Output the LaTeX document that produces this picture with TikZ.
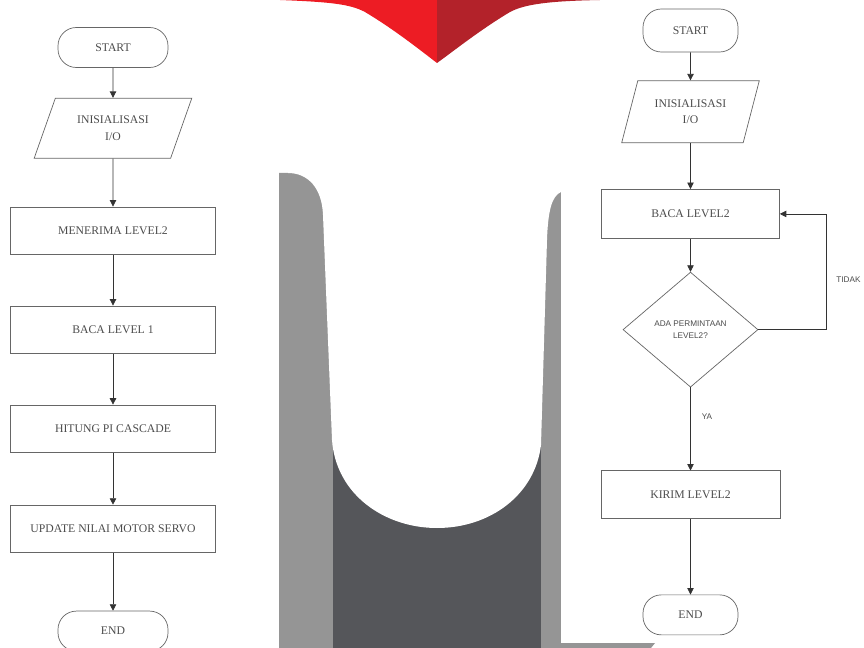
\documentclass[tikz,border=0pt]{standalone}
\usepackage{fontspec}
\setmainfont{Liberation Serif}
\setsansfont{Liberation Sans}
\usepackage{tikz}
\usetikzlibrary{positioning, arrows.meta, shapes.geometric}

\definecolor{redlight}{HTML}{ED1C24}
\definecolor{reddark}{HTML}{B3222A}
\definecolor{greylight}{HTML}{959595}
\definecolor{greydark}{HTML}{55565A}

\begin{document}
\begin{tikzpicture}[
            x=0.03cm, y=-0.03cm,
            >={Triangle[length=5.5pt, width=5.5pt]},
            base/.style={draw=black!60, line width=0.6pt, align=center, text=black!70,
                    font=\fontsize{10}{14}\selectfont, inner sep=1pt},
            terminal/.style={base, rectangle, rounded corners=0.55cm, minimum height=1.2cm},
            io/.style={base, trapezium, trapezium stretches=true,
                    trapezium left angle=63, trapezium right angle=117},
            process/.style={base, rectangle, minimum height=1.42cm},
            decision/.style={base, diamond, minimum width=4.05cm, minimum height=3.45cm,
                    inner sep=0pt, font=\sffamily\fontsize{7}{11}\selectfont},
            arrow/.style={->, line width=0.6pt, black!80},
            tag/.style={font=\sffamily\fontsize{7}{8}\selectfont, text=black!70, inner sep=1pt},
            ]

            \useasboundingbox (0,0) rectangle (864,648);

            % background
            \fill[redlight] (280,0) .. controls (330,2) and (350,4) .. (365,12)
            .. controls (395,30) and (420,50) .. (437,63) -- (437,0) -- cycle;
            \fill[reddark] (437,63) .. controls (455,50) and (480,30) .. (510,12)
            .. controls (525,4) and (550,1) .. (600,0) -- (437,0) -- cycle;
            \fill[greylight] (279,173) -- (563,173) -- (563,643) -- (655,643)
            -- (651,648) -- (279,648) -- cycle;
            \fill[greydark] (333,430) rectangle (541,648);
            \fill[white] (288,173) .. controls (308,173) and (322,188) .. (323,215)
            -- (332,440) .. controls (336,495) and (385,528) .. (437,528)
            .. controls (490,528) and (535,495) .. (541,445)
            -- (547,240) .. controls (548,210) and (552,196) .. (561,192)
            -- (561,160) -- (288,160) -- cycle;
            \fill[white] (561,150) rectangle (864,643);

            % left chart
            \node[terminal, minimum width=3.3cm] (start1) at (113,47.5) {START};
            \node[io, minimum width=4.77cm, minimum height=1.8cm, below=0.9cm of start1] (init1) {INISIALISASI\\I/O};
            \node[process, minimum width=6.15cm, below=1.44cm of init1] (terima) {MENERIMA LEVEL2};
            \node[process, minimum width=6.15cm, below=1.53cm of terima] (baca1) {BACA LEVEL 1};
            \node[process, minimum width=6.15cm, below=1.53cm of baca1] (hitung) {HITUNG PI CASCADE};
            \node[process, minimum width=6.15cm, below=1.56cm of hitung] (update) {UPDATE NILAI MOTOR SERVO};
            \node[terminal, minimum width=3.3cm, below=1.74cm of update] (end1) {END};

            \draw[arrow] (start1) -- (init1);
            \draw[arrow] (init1) -- (terima);
            \draw[arrow] (terima) -- (baca1);
            \draw[arrow] (baca1) -- (hitung);
            \draw[arrow] (hitung) -- (update);
            \draw[arrow] (update) -- (end1);

            % right chart
            \node[terminal, minimum width=2.85cm, minimum height=1.29cm] (start2) at (690.5,30.5) {START};
            \node[io, minimum width=4.14cm, minimum height=1.86cm, trapezium left angle=67,
                trapezium right angle=113, below=0.84cm of start2] (init2) {INISIALISASI\\I/O};
            \node[process, minimum width=5.34cm, minimum height=1.47cm, below=1.38cm of init2] (baca2) {BACA LEVEL2};
            \node[decision, below=0.99cm of baca2] (ask) {ADA PERMINTAAN\\LEVEL2?};
            \node[process, minimum width=5.37cm, below=2.49cm of ask] (kirim) {KIRIM LEVEL2};
            \node[terminal, minimum width=2.85cm, below=2.28cm of kirim] (end2) {END};

            \draw[arrow] (start2) -- (init2);
            \draw[arrow] (init2) -- (baca2);
            \draw[arrow] (baca2) -- (ask);
            \draw[arrow] (ask) -- (kirim);
            \draw[arrow] (kirim) -- (end2);
            \draw[arrow] (ask.east) -- ++(68,0) |- (baca2.east);

            \node[tag, anchor=west] (tidak) at (835,280) {TIDAK};
            \node[tag] (ya) at (707,417) {YA};

        \end{tikzpicture}
\end{document}
